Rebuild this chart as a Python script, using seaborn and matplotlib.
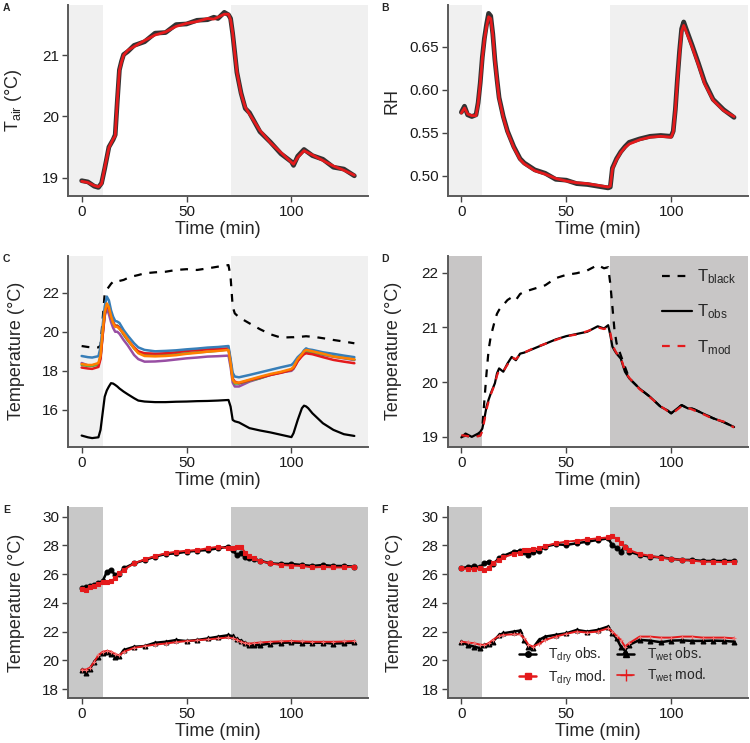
import matplotlib
matplotlib.use('Agg')
import matplotlib.pyplot as plt
from matplotlib.lines import Line2D
from matplotlib.ticker import FormatStrFormatter
import seaborn as sns

# --- Panel A: air temperature ---
tA = [0, 3, 6, 8, 9.5, 11, 13, 15, 16, 17, 18, 19, 20, 22, 25, 30, 35, 40, 45, 50,
      55, 60, 63, 65, 68, 70, 71, 72, 73, 74, 76, 78, 80, 85, 90, 95, 100, 101, 103, 106,
      110, 115, 120, 125, 130]
tair_obs = [18.95, 18.93, 18.86, 18.84, 18.91, 19.15, 19.50, 19.62, 19.70, 20.25, 20.76, 20.90,
            21.01, 21.06, 21.16, 21.22, 21.36, 21.37, 21.50, 21.51, 21.57, 21.58, 21.62, 21.60,
            21.70, 21.66, 21.60, 21.35, 21.04, 20.72, 20.38, 20.13, 20.06, 19.75, 19.58, 19.39,
            19.26, 19.20, 19.35, 19.46, 19.36, 19.30, 19.17, 19.14, 19.03]
tair_mod = [18.94, 18.92, 18.87, 18.85, 18.90, 19.16, 19.49, 19.63, 19.68, 20.26, 20.75, 20.89,
            21.00, 21.08, 21.14, 21.24, 21.33, 21.38, 21.47, 21.52, 21.55, 21.60, 21.59, 21.62,
            21.67, 21.67, 21.58, 21.36, 21.03, 20.73, 20.37, 20.15, 20.04, 19.77, 19.57, 19.41,
            19.25, 19.22, 19.33, 19.44, 19.37, 19.28, 19.19, 19.12, 19.04]

# --- Panel B: relative humidity ---
tB = [0, 1.5, 3, 5, 7, 8, 9, 10, 11, 12, 13, 14, 15, 16, 17, 18, 20, 22, 25, 28,
      30, 35, 40, 45, 50, 55, 60, 65, 70, 71, 72, 74, 76, 78, 80, 85, 90, 95, 100, 101,
      102, 103, 104, 105, 106, 107, 110, 113, 116, 120, 125, 130]
rh_obs = [0.574, 0.581, 0.571, 0.569, 0.571, 0.585, 0.608, 0.638, 0.660, 0.676, 0.689, 0.686,
          0.665, 0.635, 0.612, 0.591, 0.569, 0.552, 0.534, 0.520, 0.515, 0.507, 0.503, 0.496,
          0.495, 0.491, 0.490, 0.488, 0.486, 0.487, 0.509, 0.520, 0.528, 0.534, 0.539, 0.543,
          0.546, 0.547, 0.546, 0.552, 0.577, 0.613, 0.645, 0.671, 0.679, 0.672, 0.652, 0.631,
          0.609, 0.589, 0.577, 0.568]
rh_mod = [0.573, 0.579, 0.572, 0.570, 0.570, 0.584, 0.607, 0.636, 0.658, 0.673, 0.685, 0.683,
          0.664, 0.634, 0.611, 0.590, 0.568, 0.551, 0.533, 0.519, 0.514, 0.506, 0.502, 0.497,
          0.494, 0.492, 0.491, 0.489, 0.487, 0.488, 0.508, 0.519, 0.527, 0.533, 0.537, 0.542,
          0.545, 0.546, 0.545, 0.551, 0.576, 0.611, 0.642, 0.668, 0.675, 0.669, 0.650, 0.629,
          0.607, 0.588, 0.576, 0.569]

# --- Panel C: black globe, leaf sensors and wet bulb ---
tC = [0, 3, 5, 8, 9, 10, 11, 12, 13, 14, 15, 16, 17, 18, 20, 22, 25, 27, 30, 35,
      40, 45, 50, 55, 60, 65, 70, 71, 72, 73, 75, 80, 85, 90, 95, 100, 101, 102, 103, 105,
      106, 107, 108, 110, 115, 120, 125, 130]
c_black = [19.27, 19.22, 19.20, 19.20, 19.30, 20.60, 21.97, 22.15, 22.30, 22.45, 22.56, 22.60,
           22.55, 22.60, 22.65, 22.75, 22.85, 22.90, 22.99, 23.04, 23.07, 23.16, 23.20, 23.16,
           23.24, 23.33, 23.41, 22.80, 21.28, 20.94, 20.74, 20.43, 20.13, 19.87, 19.70, 19.72,
           19.72, 19.73, 19.74, 19.75, 19.76, 19.77, 19.76, 19.75, 19.67, 19.58, 19.50, 19.41]
c_low = [14.69, 14.60, 14.56, 14.60, 14.98, 15.83, 16.68, 17.00, 17.20, 17.37, 17.35, 17.28,
         17.20, 17.10, 16.94, 16.80, 16.60, 16.48, 16.43, 16.40, 16.40, 16.42, 16.43, 16.45,
         16.46, 16.48, 16.51, 16.17, 15.49, 15.42, 15.36, 15.07, 14.95, 14.85, 14.73, 14.61,
         14.81, 15.15, 15.49, 16.09, 16.22, 16.18, 16.09, 15.83, 15.32, 14.98, 14.76, 14.67]
c_blue = [18.76, 18.70, 18.68, 18.75, 19.20, 20.30, 21.30, 21.80, 21.60, 21.10, 20.77, 20.55,
          20.52, 20.45, 20.09, 19.80, 19.41, 19.20, 19.07, 19.00, 19.02, 19.05, 19.10, 19.14,
          19.19, 19.22, 19.27, 18.60, 17.90, 17.71, 17.67, 17.79, 17.92, 18.05, 18.18, 18.30,
          18.40, 18.55, 18.70, 18.90, 19.05, 19.15, 19.10, 19.07, 18.95, 18.87, 18.78, 18.70]
c_red = [18.17, 18.12, 18.10, 18.20, 18.60, 19.80, 20.90, 21.37, 21.20, 20.80, 20.50, 20.30,
         20.30, 20.20, 19.90, 19.60, 19.20, 19.00, 18.90, 18.88, 18.90, 18.95, 19.02, 19.06,
         19.10, 19.12, 19.15, 18.50, 17.60, 17.45, 17.37, 17.52, 17.65, 17.79, 17.90, 18.05,
         18.15, 18.30, 18.50, 18.75, 18.85, 18.90, 18.88, 18.85, 18.70, 18.56, 18.47, 18.39]
c_green = [18.30, 18.25, 18.25, 18.32, 18.70, 19.90, 20.90, 21.37, 21.20, 20.80, 20.45, 20.30,
           20.32, 20.20, 19.85, 19.55, 19.15, 18.95, 18.81, 18.78, 18.81, 18.85, 18.90, 18.95,
           18.98, 19.03, 19.10, 18.40, 17.60, 17.35, 17.35, 17.50, 17.62, 17.80, 17.92, 18.05,
           18.15, 18.35, 18.55, 18.82, 18.95, 19.00, 18.98, 18.95, 18.85, 18.75, 18.67, 18.58]
c_orange = [18.35, 18.30, 18.30, 18.40, 18.80, 20.00, 21.00, 21.45, 21.25, 20.80, 20.45, 20.25,
            20.25, 20.15, 19.92, 19.60, 19.15, 18.90, 18.76, 18.74, 18.76, 18.80, 18.87, 18.92,
            18.98, 19.02, 19.07, 18.40, 17.55, 17.40, 17.40, 17.55, 17.70, 17.84, 17.95, 18.10,
            18.20, 18.40, 18.60, 18.85, 19.00, 19.07, 19.05, 19.00, 18.88, 18.73, 18.66, 18.59]
c_purple = [18.40, 18.28, 18.28, 18.35, 18.70, 19.80, 20.80, 21.20, 20.90, 20.50, 20.20, 20.00,
            20.00, 19.90, 19.58, 19.30, 18.81, 18.60, 18.47, 18.48, 18.52, 18.58, 18.64, 18.68,
            18.73, 18.75, 18.78, 18.20, 17.40, 17.20, 17.20, 17.45, 17.62, 17.79, 17.92, 18.00,
            18.10, 18.30, 18.50, 18.80, 18.95, 19.00, 18.98, 18.95, 18.82, 18.72, 18.64, 18.55]

# --- Panel D: black globe vs observed / modelled ---
tD = [0, 2, 5, 8, 9, 10, 11, 12, 13, 14, 16, 17, 18, 20, 22, 24, 26, 28, 30, 35,
      40, 45, 50, 55, 60, 65, 68, 70, 71, 72, 73, 74, 76, 78, 80, 85, 90, 95, 98, 100,
      102, 105, 108, 110, 115, 120, 125, 130]
d_black = [19.00, 19.02, 19.00, 19.02, 19.03, 19.18, 19.67, 20.16, 20.59, 20.83, 21.13, 21.25,
           21.32, 21.41, 21.50, 21.55, 21.50, 21.61, 21.65, 21.71, 21.77, 21.90, 21.96, 21.99,
           22.04, 22.14, 22.08, 22.10, 21.80, 21.38, 20.95, 20.71, 20.49, 20.28, 20.07, 19.88,
           19.73, 19.55, 19.49, 19.43, 19.49, 19.58, 19.52, 19.52, 19.43, 19.34, 19.27, 19.18]
d_obs = [18.99, 19.06, 19.00, 19.06, 19.09, 19.15, 19.34, 19.55, 19.68, 19.79, 19.98, 20.16,
         20.25, 20.19, 20.34, 20.46, 20.40, 20.52, 20.54, 20.62, 20.70, 20.78, 20.84, 20.88,
         20.92, 21.02, 20.98, 21.04, 20.86, 20.65, 20.58, 20.52, 20.43, 20.19, 20.07, 19.88,
         19.73, 19.55, 19.49, 19.43, 19.49, 19.58, 19.52, 19.52, 19.43, 19.34, 19.27, 19.18]
d_mod = [19.03, 19.02, 19.00, 19.01, 19.02, 19.10, 19.30, 19.50, 19.65, 19.77, 19.97, 20.12,
         20.22, 20.20, 20.32, 20.45, 20.42, 20.50, 20.54, 20.63, 20.70, 20.77, 20.84, 20.87,
         20.93, 21.00, 20.97, 21.00, 20.90, 20.70, 20.60, 20.53, 20.45, 20.20, 20.08, 19.87,
         19.72, 19.56, 19.48, 19.44, 19.47, 19.56, 19.53, 19.50, 19.42, 19.33, 19.28, 19.17]

# --- Panel E: dry / wet bulb, run 1 ---
tE = [0, 2, 4, 6, 8, 10, 12, 14, 16, 18, 20, 25, 30, 35, 40, 45, 50, 55, 60, 65,
      70, 72, 74, 76, 78, 80, 82, 85, 90, 95, 100, 105, 110, 115, 120, 125, 130]
e_dry_obs = [25.01, 25.10, 25.18, 25.24, 25.40, 25.50, 26.17, 26.29, 25.94, 25.98, 26.40, 26.75,
             26.98, 27.22, 27.40, 27.45, 27.56, 27.63, 27.68, 27.80, 27.91, 27.68, 27.33, 27.45,
             27.20, 27.10, 27.05, 26.94, 26.75, 26.71, 26.71, 26.64, 26.57, 26.64, 26.57, 26.57,
             26.52]
e_dry_mod = [24.94, 24.90, 25.10, 25.20, 25.35, 25.45, 25.48, 25.55, 25.70, 26.06, 26.29, 26.75,
             27.03, 27.26, 27.45, 27.56, 27.63, 27.68, 27.80, 27.91, 27.80, 27.80, 27.92, 27.90,
             27.50, 27.25, 27.10, 26.91, 26.75, 26.64, 26.60, 26.57, 26.47, 26.50, 26.47, 26.47,
             26.52]
e_wet_obs = [19.33, 19.14, 19.44, 19.91, 20.26, 20.49, 20.56, 20.45, 20.25, 20.30, 20.72, 20.95,
             21.00, 21.23, 21.30, 21.42, 21.35, 21.42, 21.53, 21.65, 21.76, 21.69, 21.46, 21.37,
             21.20, 21.07, 21.05, 21.07, 21.18, 21.23, 21.25, 21.23, 21.23, 21.23, 21.18, 21.20,
             21.25]
e_wet_mod = [19.37, 19.37, 19.50, 19.90, 20.37, 20.60, 20.67, 20.62, 20.45, 20.35, 20.60, 20.88,
             21.00, 21.10, 21.18, 21.27, 21.35, 21.40, 21.46, 21.53, 21.60, 21.55, 21.45, 21.30,
             21.20, 21.18, 21.20, 21.25, 21.30, 21.33, 21.35, 21.32, 21.30, 21.30, 21.30, 21.32,
             21.35]

# --- Panel F: dry / wet bulb, run 2 ---
tF = [0, 3, 6, 9, 11, 13, 15, 18, 20, 25, 28, 30, 32, 34, 37, 40, 45, 50, 55, 60,
      65, 70, 72, 74, 76, 78, 80, 85, 90, 95, 100, 105, 110, 115, 120, 125, 130]
f_dry_obs = [26.41, 26.50, 26.55, 26.48, 26.76, 26.87, 26.71, 27.10, 27.27, 27.57, 27.61, 27.57,
             27.34, 27.55, 27.62, 27.92, 28.08, 28.03, 28.15, 28.26, 28.38, 28.49, 28.00, 27.85,
             27.57, 27.92, 27.57, 27.34, 27.22, 27.17, 27.08, 26.99, 26.99, 26.92, 26.92, 26.92,
             26.92]
f_dry_mod = [26.41, 26.36, 26.34, 26.41, 26.30, 26.45, 26.76, 26.99, 27.17, 27.41, 27.50, 27.68,
             27.70, 27.72, 27.80, 27.96, 28.15, 28.26, 28.33, 28.42, 28.49, 28.56, 28.66, 28.45,
             28.20, 27.92, 27.68, 27.41, 27.27, 27.15, 27.06, 26.99, 26.94, 26.87, 26.87, 26.83,
             26.87]
f_wet_obs = [21.31, 21.08, 20.97, 20.85, 21.08, 21.15, 21.30, 21.78, 21.89, 22.01, 22.08, 21.43,
             20.97, 20.85, 21.43, 21.66, 21.78, 21.89, 22.12, 22.01, 22.12, 22.36, 21.89, 21.54,
             20.97, 20.69, 21.08, 21.43, 21.38, 21.27, 21.38, 21.40, 21.36, 21.36, 21.38, 21.36,
             21.31]
f_wet_mod = [21.31, 21.25, 21.20, 21.10, 21.08, 21.20, 21.43, 21.71, 21.78, 21.82, 21.82, 21.54,
             21.10, 20.97, 21.15, 21.43, 21.66, 21.85, 22.01, 21.94, 22.01, 22.24, 22.01, 21.70,
             21.43, 20.97, 21.20, 21.66, 21.66, 21.59, 21.59, 21.66, 21.66, 21.59, 21.59, 21.59,
             21.54]

RED = '#e41a1c'
LIGHT = '#f0f0f0'
DARK = '#c8c6c6'

sns.set_style('ticks')
plt.rcParams['font.family'] = ['Liberation Sans', 'DejaVu Sans']
plt.rcParams['mathtext.fontset'] = 'custom'
plt.rcParams['mathtext.rm'] = 'Liberation Sans'
plt.rcParams['mathtext.it'] = 'Liberation Sans:italic'
plt.rcParams['mathtext.bf'] = 'Liberation Sans:bold'

fig = plt.figure(figsize=(7.5, 7.43), dpi=100)


def panel(left_px, top_px, letter, ylabel, ylim, yticks, shade, label_px):
    ax = fig.add_axes([left_px / 750, 1 - (top_px + 191) / 743, 300 / 750, 191 / 743])
    ax.axvspan(-20, 10, color=shade, lw=0, zorder=0)
    ax.axvspan(71, 160, color=shade, lw=0, zorder=0)
    ax.set_xlim(-6.5, 136.5)
    ax.set_ylim(*ylim)
    ax.set_xticks([0, 50, 100])
    ax.set_yticks(yticks)
    sns.despine(ax=ax)
    for s in ['left', 'bottom']:
        ax.spines[s].set_color('#5a5a5a')
        ax.spines[s].set_linewidth(1.4)
    ax.tick_params(labelsize=11, length=4, width=1, color='#444444',
                   labelcolor='#1a1a1a', pad=2.5)
    ax.set_xlabel('Time (min)', fontsize=13, labelpad=1.5)
    ax.set_ylabel(ylabel, fontsize=13)
    ax.yaxis.set_label_coords((label_px - left_px) / 300, 0.5)
    x0 = 3 if left_px < 375 else 381
    fig.text(x0 / 750, 1 - (top_px + 3) / 743, letter, fontsize=7.5,
             fontweight='bold', va='center')
    return ax


def line(ax, t, v, **kw):
    sns.lineplot(x=t, y=v, ax=ax, errorbar=None, sort=False, **kw)


# A
ax = panel(68, 5, 'A', r'T$_{\mathrm{air}}$ (°C)', (18.70, 21.82), [19, 20, 21], LIGHT, 24)
line(ax, tA, tair_obs, color='#333333', linewidth=3.4)
line(ax, tA, tair_mod, color=RED, linewidth=2.0)

# B
ax = panel(447.7, 5, 'B', 'RH', (0.4766, 0.6987), [0.50, 0.55, 0.60, 0.65], LIGHT, 401)
ax.yaxis.set_major_formatter(FormatStrFormatter('%.2f'))
line(ax, tB, rh_obs, color='#333333', linewidth=3.4)
line(ax, tB, rh_mod, color=RED, linewidth=2.0)

# C
ax = panel(68, 255.7, 'C', 'Temperature (°C)', (14.12, 23.89), [16, 18, 20, 22], LIGHT, 25)
line(ax, tC, c_black, color='black', linewidth=1.6, linestyle=(0, (3.5, 3.5)))
line(ax, tC, c_low, color='black', linewidth=1.6)
for vals, col in [(c_purple, '#984ea3'), (c_green, '#4daf4a'), (c_red, RED),
                  (c_blue, '#377eb8'), (c_orange, '#ff7f00')]:
    line(ax, tC, vals, color=col, linewidth=1.8)

# D
ax = panel(447.7, 255.7, 'D', 'Temperature (°C)', (18.82, 22.31), [19, 20, 21, 22], DARK, 402)
line(ax, tD, d_black, color='black', linewidth=1.6, linestyle=(0, (3.5, 3.5)))
line(ax, tD, d_obs, color='black', linewidth=1.6)
line(ax, tD, d_mod, color=RED, linewidth=1.6, linestyle=(0, (3.5, 3.5)))
handles = [Line2D([], [], color='black', lw=1.6, ls=(0, (3.5, 3.5))),
           Line2D([], [], color='black', lw=1.6),
           Line2D([], [], color=RED, lw=1.6, ls=(0, (3.5, 3.5)))]
ax.legend(handles, [r'T$_{\mathrm{black}}$', r'T$_{\mathrm{obs}}$', r'T$_{\mathrm{mod}}$'],
          loc='upper right', bbox_to_anchor=(1.0, 1.0), frameon=False, fontsize=12,
          handlelength=1.8, handletextpad=0.3, labelspacing=1.0, borderaxespad=0.3)

# E and F
marker_kw = dict(markersize=3.5, markeredgewidth=0.8)
for left, letter, t, dry_o, dry_m, wet_o, wet_m, lab in [
        (68, 'E', tE, e_dry_obs, e_dry_mod, e_wet_obs, e_wet_mod, 25),
        (447.7, 'F', tF, f_dry_obs, f_dry_mod, f_wet_obs, f_wet_mod, 403)]:
    ax = panel(left, 507.3, letter, 'Temperature (°C)', (17.37, 30.65),
               [18, 20, 22, 24, 26, 28, 30], '#c8c8c8', lab)
    line(ax, t, dry_o, color='black', linewidth=1.8, marker='o', markeredgecolor='black', **marker_kw)
    line(ax, t, wet_o, color='black', linewidth=1.8, marker='^', markeredgecolor='black', **marker_kw)
    line(ax, t, dry_m, color=RED, linewidth=1.4, marker='s', markeredgecolor=RED, **marker_kw)
    line(ax, t, wet_m, color=RED, linewidth=1.4, marker='+', markeredgecolor='#f07070', **marker_kw)

handles = [Line2D([], [], color='black', lw=1.8, marker='o', markersize=4),
           Line2D([], [], color=RED, lw=1.8, marker='s', markersize=4),
           Line2D([], [], color='black', lw=1.8, marker='^', markersize=4),
           Line2D([], [], color=RED, lw=1.2, marker='+', markersize=8)]
labels = [r'T$_{\mathrm{dry}}$ obs.', r'T$_{\mathrm{dry}}$ mod.',
          r'T$_{\mathrm{wet}}$ obs.', r'T$_{\mathrm{wet}}$ mod.']
ax.legend(handles, labels, loc='lower center', bbox_to_anchor=(0.55, -0.01), ncol=2,
          frameon=False, fontsize=10, handlelength=1.2, handletextpad=0.9,
          columnspacing=0.8, labelspacing=0.25)

fig.savefig('out.png', dpi=100)
